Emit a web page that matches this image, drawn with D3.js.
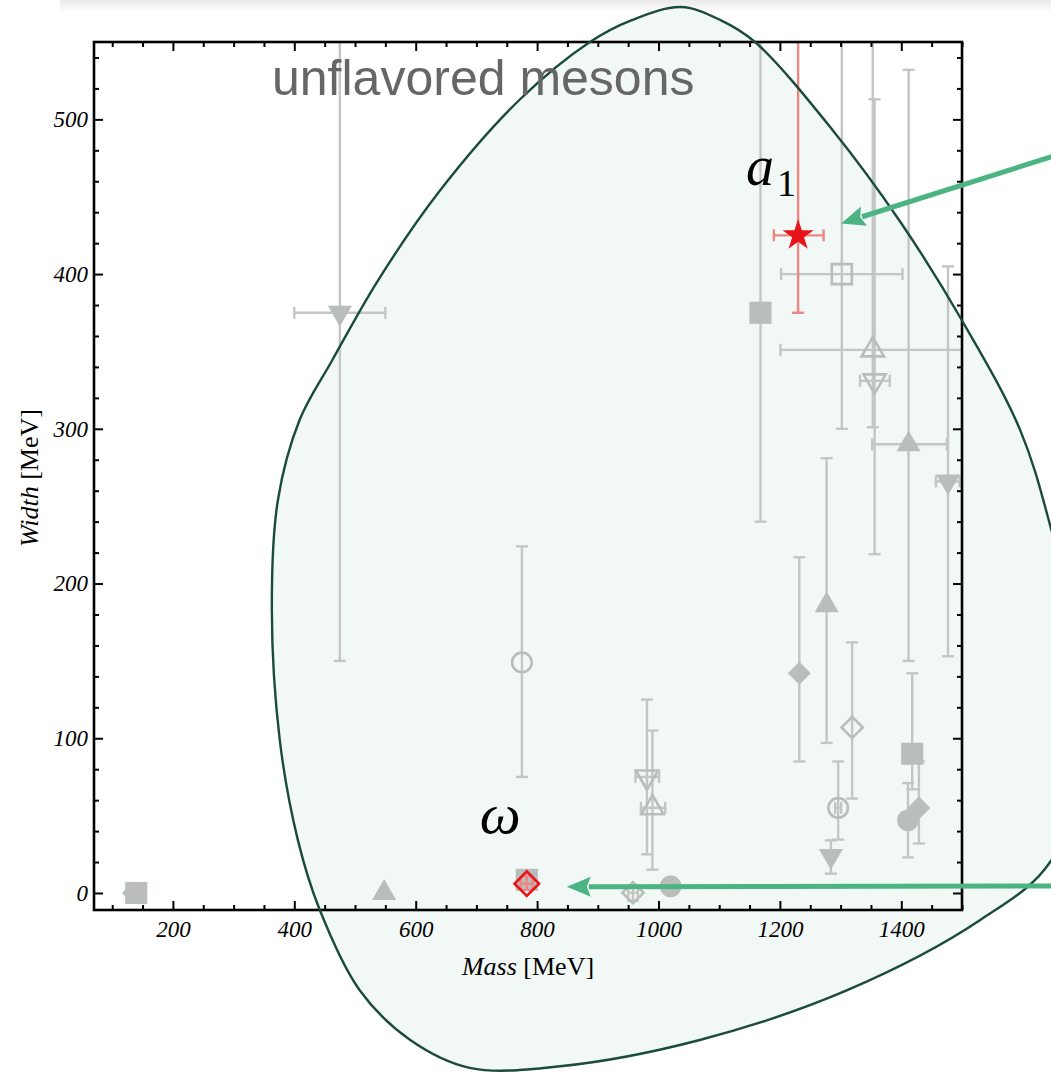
<!DOCTYPE html>
<html>
<head>
<meta charset="utf-8">
<script src="https://cdn.jsdelivr.net/npm/d3@7"></script>
<style>
  body { margin: 0; background: #fff; }
  svg { display: block; }
</style>
</head>
<body>
<svg id="chart" width="1051" height="1074"></svg>
<script>
// Unflavored mesons: mass vs. decay width (MeV), with uncertainties.
const mass     = [135, 139.6, 548, 475, 775, 783, 958, 990, 981, 1020, 1168, 1232, 1277, 1284, 1296, 1302, 1319, 1353, 1356, 1412, 1477, 1411, 1418, 1429];
const width    = [0, 0, 0, 375, 149, 8.5, 0.2, 55, 75, 4.3, 375, 142, 186, 24, 55, 400, 107, 351, 331, 290, 266, 47, 90, 55];
const widthLo  = [null, null, null, 150, 75, null, -5, 15, 25, null, 240, 85, 97, 12.5, 34.5, 300, 61, 301, 219, 150, 153, 23, 67, 32];
const widthHi  = [null, null, null, 600, 224, null, 5, 105, 125, null, 600, 217, 281, 34, 85, 600, 162, 600, 513, 532, 405, 71, 142, 85];
const massLo   = [null, null, null, 400, null, null, 950, 971, 962, null, null, null, null, null, 1291, 1202, null, 1201, 1332, 1352, 1457, null, null, null];
const massHi   = [null, null, null, 550, null, null, 966, 1011, 1001, null, null, null, null, null, 1301, 1402, null, 1505, 1381, 1475, 1496, null, null, null];
const shapes   = ["diamond", "square", "triangle", "triangleDown", "circleOpen", "square", "diamondOpen", "triangleOpen", "triangleDownOpen", "circle",
                  "square", "diamond", "triangle", "triangleDown", "circleOpen", "squareOpen", "diamondOpen", "triangleOpen", "triangleDownOpen",
                  "triangle", "triangleDown", "circle", "square", "diamond"];

// Highlighted states
const hlLabel   = ["a", "ω"];
const hlSub     = ["1", ""];
const hlMass    = [1230, 783];
const hlWidth   = [425, 6];
const hlWidthLo = [375, 2];
const hlWidthHi = [600, 11];
const hlMassLo  = [1190, 773];
const hlMassHi  = [1272, 793];
const hlShape   = ["star", "diamondOpenLarge"];

// Axis ticks
const massTicks  = [200, 400, 600, 800, 1000, 1200, 1400];
const widthTicks = [0, 100, 200, 300, 400, 500];
const massMinor  = d3.range(100, 1501, 50).filter(v => v % 200 !== 0);
const widthMinor = d3.range(0, 550, 20).filter(v => v % 100 !== 0);

// Region outline in (mass, width) coordinates, clockwise from its top
const regionMass  = [1037, 1103, 1159, 1287, 1398, 1500, 1596, 1647, 1719, 1647, 1530, 1310, 1068, 838, 689, 591, 508, 441, 406, 376, 363, 373, 409, 462, 538, 640, 772, 887, 955];
const regionWidth = [572.6, 564, 550, 493, 434, 370, 299, 235, 112, 21, -17.5, -63, -95, -112, -113, -95, -63, -10, 34, 99, 183, 254, 306, 344, 396, 454, 513, 550, 564];

const svg = d3.select("#chart");
const W = 1051, H = 1074;
const plot = { left: 94, right: 962, top: 42, bottom: 910 };

const x = d3.scaleLinear().domain([70, 1500]).range([plot.left, plot.right]);
const y = d3.scaleLinear().domain([-11, 550]).range([plot.bottom, plot.top]);

const GRAY = "#b9bdbc";
const ERR = "#c3c6c5";
const RED = "#e8141a";
const PINK = "#ec8782";
const ARROW = "#4cb483";

const defs = svg.append("defs");
const grad = defs.append("linearGradient").attr("id", "edge").attr("x1", 0).attr("y1", 0).attr("x2", 0).attr("y2", 1);
grad.append("stop").attr("offset", "0%").attr("stop-color", "#e9e9e9");
grad.append("stop").attr("offset", "100%").attr("stop-color", "#ffffff");
defs.append("clipPath").attr("id", "plotClip").append("rect")
  .attr("x", plot.left).attr("y", plot.top)
  .attr("width", plot.right - plot.left).attr("height", plot.bottom - plot.top);

svg.append("rect").attr("width", W).attr("height", H).attr("fill", "#fff");
svg.append("rect").attr("x", 60).attr("y", 0).attr("width", W - 60).attr("height", 12).attr("fill", "url(#edge)");

// Region fill (under the data)
const regionPts = regionMass.map((m, i) => [x(m), y(regionWidth[i])]);
const regionLine = d3.line().curve(d3.curveCatmullRomClosed.alpha(0.5));
svg.append("path").attr("d", regionLine(regionPts)).attr("fill", "#f2f8f5").attr("stroke", "none");

// Marker styles
const shapeStyle = {
  square:           { type: d3.symbolSquare,   size: 490, rot: 0,   filled: true },
  squareOpen:       { type: d3.symbolSquare,   size: 400, rot: 0,   filled: false },
  triangle:         { type: d3.symbolTriangle, size: 250, rot: 0,   filled: true },
  triangleOpen:     { type: d3.symbolTriangle, size: 215, rot: 0,   filled: false },
  triangleDown:     { type: d3.symbolTriangle, size: 250, rot: 180, filled: true },
  triangleDownOpen: { type: d3.symbolTriangle, size: 215, rot: 180, filled: false },
  diamond:          { type: d3.symbolSquare,   size: 265, rot: 45,  filled: true },
  diamondOpen:      { type: d3.symbolSquare,   size: 225, rot: 45,  filled: false },
  diamondOpenLarge: { type: d3.symbolSquare,   size: 300, rot: 45,  filled: false },
  circle:           { type: d3.symbolCircle,   size: 370, rot: 0,   filled: true },
  circleOpen:       { type: d3.symbolCircle,   size: 300, rot: 0,   filled: false },
  star:             { type: d3.symbolStar,     size: 300, rot: 0,   filled: true }
};

function drawErrors(g, mx, wy, wl, wh, ml, mh, color) {
  const cap = 6;
  if (wl != null && wh != null) {
    g.append("line").attr("x1", x(mx)).attr("x2", x(mx)).attr("y1", y(wl)).attr("y2", y(wh))
      .attr("stroke", color).attr("stroke-width", 2.4);
    [wl, wh].forEach(v => g.append("line")
      .attr("x1", x(mx) - cap).attr("x2", x(mx) + cap).attr("y1", y(v)).attr("y2", y(v))
      .attr("stroke", color).attr("stroke-width", 2.4));
  }
  if (ml != null && mh != null) {
    g.append("line").attr("x1", x(ml)).attr("x2", x(mh)).attr("y1", y(wy)).attr("y2", y(wy))
      .attr("stroke", color).attr("stroke-width", 2.4);
    [ml, mh].forEach(v => g.append("line")
      .attr("x1", x(v)).attr("x2", x(v)).attr("y1", y(wy) - cap).attr("y2", y(wy) + cap)
      .attr("stroke", color).attr("stroke-width", 2.4));
  }
}

function drawMarker(g, mx, wy, shape, color) {
  const st = shapeStyle[shape];
  g.append("path")
    .attr("d", d3.symbol().type(st.type).size(st.size)())
    .attr("transform", `translate(${x(mx)},${y(wy)}) rotate(${st.rot})`)
    .attr("fill", st.filled ? color : "none")
    .attr("stroke", st.filled ? "none" : color)
    .attr("stroke-width", st.filled ? 0 : 2.6);
}

// Error bars then markers
const errG = svg.append("g").attr("clip-path", "url(#plotClip)");
mass.forEach((m, i) => drawErrors(errG, m, width[i], widthLo[i], widthHi[i], massLo[i], massHi[i], ERR));
const markG = svg.append("g");
mass.forEach((m, i) => drawMarker(markG, m, width[i], shapes[i], GRAY));

// Highlighted states
const hlG = svg.append("g");
hlMass.forEach((m, i) => drawErrors(hlG.append("g").attr("clip-path", "url(#plotClip)"), m, hlWidth[i], hlWidthLo[i], hlWidthHi[i], hlMassLo[i], hlMassHi[i], PINK));
hlMass.forEach((m, i) => drawMarker(hlG, m, hlWidth[i], hlShape[i], RED));

// Axes: inward ticks on all four sides
const tickFont = "italic 23px 'Liberation Serif', 'Times New Roman', serif";
function styleAxis(g) {
  g.select(".domain").remove();
  g.selectAll(".tick line").attr("stroke", "#000").attr("stroke-width", 2);
  g.selectAll(".tick text").style("font", tickFont).attr("fill", "#000");
}
svg.append("g").attr("transform", `translate(0,${plot.bottom})`)
  .call(d3.axisBottom(x).tickValues(massTicks).tickSize(-9).tickPadding(11).tickFormat(d3.format("d"))).call(styleAxis);
svg.append("g").attr("transform", `translate(0,${plot.bottom})`)
  .call(d3.axisBottom(x).tickValues(massMinor).tickSize(-5).tickFormat("")).call(styleAxis);
svg.append("g").attr("transform", `translate(0,${plot.top})`)
  .call(d3.axisTop(x).tickValues(massTicks).tickSize(-9).tickFormat("")).call(styleAxis);
svg.append("g").attr("transform", `translate(0,${plot.top})`)
  .call(d3.axisTop(x).tickValues(massMinor).tickSize(-5).tickFormat("")).call(styleAxis);
svg.append("g").attr("transform", `translate(${plot.left},0)`)
  .call(d3.axisLeft(y).tickValues(widthTicks).tickSize(-9).tickPadding(6).tickFormat(d3.format("d"))).call(styleAxis);
svg.append("g").attr("transform", `translate(${plot.left},0)`)
  .call(d3.axisLeft(y).tickValues(widthMinor).tickSize(-5).tickFormat("")).call(styleAxis);
svg.append("g").attr("transform", `translate(${plot.right},0)`)
  .call(d3.axisRight(y).tickValues(widthTicks).tickSize(-9).tickFormat("")).call(styleAxis);
svg.append("g").attr("transform", `translate(${plot.right},0)`)
  .call(d3.axisRight(y).tickValues(widthMinor).tickSize(-5).tickFormat("")).call(styleAxis);

svg.append("rect")
  .attr("x", plot.left).attr("y", plot.top)
  .attr("width", plot.right - plot.left).attr("height", plot.bottom - plot.top)
  .attr("fill", "none").attr("stroke", "#000").attr("stroke-width", 2.6);

// Axis titles
const xt = svg.append("text").attr("x", (plot.left + plot.right) / 2).attr("y", 975)
  .attr("text-anchor", "middle").style("font", "26px 'Liberation Serif', serif").attr("fill", "#000");
xt.append("tspan").style("font-style", "italic").text("Mass");
xt.append("tspan").text(" [MeV]");
const yt = svg.append("text").attr("transform", `translate(38,${(plot.top + plot.bottom) / 2 + 2}) rotate(-90)`)
  .attr("text-anchor", "middle").style("font", "26px 'Liberation Serif', serif").attr("fill", "#000");
yt.append("tspan").style("font-style", "italic").text("Width");
yt.append("tspan").text(" [MeV]");

// Region outline (over the data)
svg.append("path").attr("d", regionLine(regionPts)).attr("fill", "none")
  .attr("stroke", "#1b4b3a").attr("stroke-width", 2.4);

// Title
svg.append("text").attr("x", 272).attr("y", 95)
  .style("font", "50px 'Liberation Sans', Arial, sans-serif").attr("fill", "#666").text("unflavored mesons");

// State labels
const labelOffset = [[-52, -50], [-47, -51]];
hlMass.forEach((m, i) => {
  const t = svg.append("text")
    .attr("x", x(m) + labelOffset[i][0]).attr("y", y(hlWidth[i]) + labelOffset[i][1])
    .attr("fill", "#000");
  t.append("tspan").style("font", `italic ${i === 0 ? 56 : 58}px 'Liberation Serif', serif`).text(hlLabel[i]);
  if (hlSub[i]) t.append("tspan").attr("dx", 3).attr("dy", 11).style("font", "38px 'Liberation Serif', serif").text(hlSub[i]);
});

// Arrows pointing at the highlighted states
const arrowTipOffset = [[43, -12], [40, 3]];
const arrowStart = [[1060, 154], [1060, 886]];
hlMass.forEach((m, i) => {
  const tx = x(m) + arrowTipOffset[i][0], ty = y(hlWidth[i]) + arrowTipOffset[i][1];
  const sx = arrowStart[i][0], sy = arrowStart[i][1];
  const len = Math.hypot(sx - tx, sy - ty);
  const ux = (sx - tx) / len, uy = (sy - ty) / len;
  const headL = 24, headW = 10;
  const bx = tx + ux * headL, by = ty + uy * headL;
  svg.append("line").attr("x1", sx).attr("y1", sy).attr("x2", bx - ux * 2).attr("y2", by - uy * 2)
    .attr("stroke", ARROW).attr("stroke-width", 5);
  const px = -uy, py = ux;
  svg.append("path")
    .attr("d", `M${tx},${ty}L${bx + px * headW},${by + py * headW}L${bx - ux * 4},${by - uy * 4}L${bx - px * headW},${by - py * headW}Z`)
    .attr("fill", ARROW);
});
</script>
</body>
</html>
